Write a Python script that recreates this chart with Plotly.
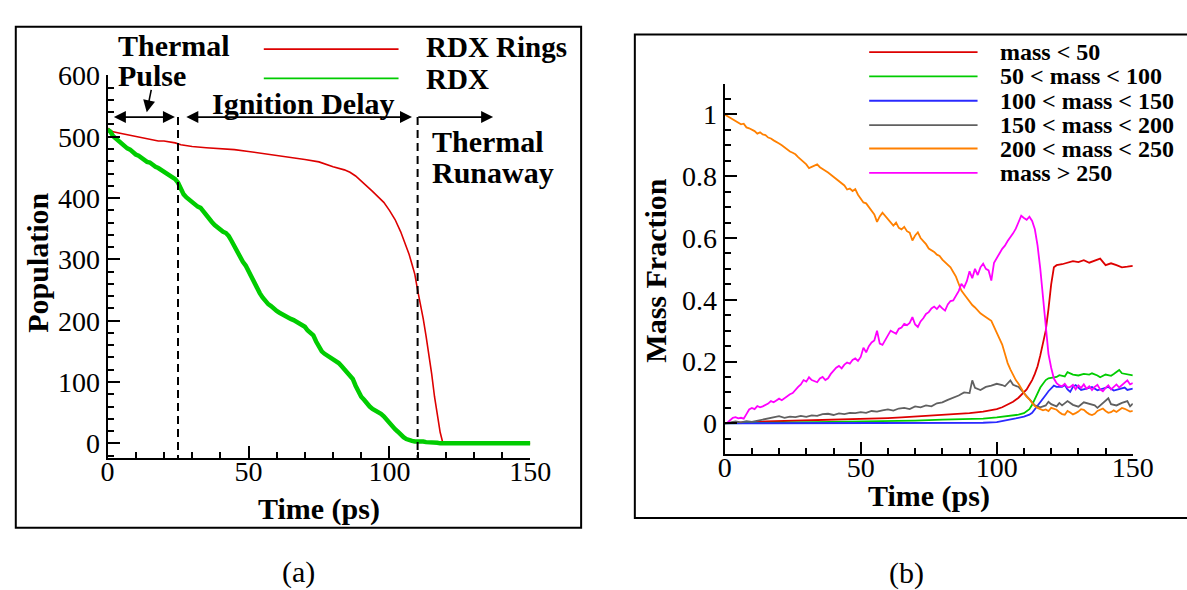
import plotly.graph_objects as go

# ---------------- Panel (a): populations ----------------
time_a = list(range(0, 151))
rdx_population = [
    512, 508, 501, 497, 492, 489, 485, 481, 479, 474,
    471, 469, 465, 463, 459, 458, 454, 451, 449, 446,
    443, 441, 438, 434, 431, 425, 413, 406, 401, 397,
    394, 390, 386, 384, 378, 370, 366, 361, 356, 352,
    348, 345, 343, 338, 330, 321, 313, 305, 296, 290,
    281, 271, 262, 251, 245, 238, 232, 227, 224, 219,
    216, 213, 210, 207, 205, 203, 201, 198, 196, 193,
    190, 184, 180, 176, 166, 156, 150, 146, 143, 139,
    138, 135, 131, 126, 121, 115, 110, 105, 94, 84,
    76, 71, 65, 60, 56, 54, 52, 48, 44, 38,
    33, 27, 23, 19, 14, 10, 7, 5, 4, 3,
    3, 4, 3, 2, 2, 1, 1, 1, 0, 0,
    0, 0, 0, 0, 0, 0, 0, 0, 0, 0,
    0, 0, 0, 0, 0, 0, 0, 0, 0, 0,
    0, 0, 0, 0, 0, 0, 0, 0, 0, 0,
    0,
]

time_rings = [0, 2, 4, 6, 8, 10, 12, 14, 16, 18, 20, 22, 24, 26, 28, 30, 35, 40, 45,
              50, 55, 60, 65, 70, 75, 80, 84, 86, 88, 90, 92, 94, 96, 98, 100, 102,
              104, 106, 107, 108, 109, 110, 111, 112, 113, 114, 115, 116, 117, 118,
              119, 150]
rings_population = [514, 508, 506, 504, 502, 501, 499, 496, 494, 493, 493, 492, 490,
                    487, 485, 484, 482, 481, 479, 476, 473, 469, 467, 463, 459, 451,
                    446, 442, 436, 428, 420, 411, 402, 393, 380, 365, 345, 322, 308,
                    292, 276, 250, 228, 203, 175, 145, 113, 76, 48, 18, 0, 0]

pulse_end = 25        # end of the thermal pulse (ps)
runaway_start = 110   # onset of thermal runaway (ps)

# ---------------- Panel (b): mass fractions ----------------
time_b = list(range(0, 151))
frac_200_250 = [
    1.000, 0.995, 0.990, 0.984, 0.978, 0.975, 0.968, 0.970, 0.958, 0.955,
    0.950, 0.946, 0.938, 0.942, 0.935, 0.933, 0.925, 0.922, 0.916, 0.912,
    0.906, 0.900, 0.893, 0.889, 0.880, 0.876, 0.871, 0.862, 0.855, 0.846,
    0.838, 0.826, 0.830, 0.836, 0.838, 0.829, 0.822, 0.818, 0.812, 0.805,
    0.798, 0.790, 0.786, 0.779, 0.770, 0.757, 0.760, 0.752, 0.758, 0.740,
    0.728, 0.715, 0.712, 0.700, 0.690, 0.676, 0.652, 0.670, 0.682, 0.671,
    0.660, 0.652, 0.640, 0.650, 0.633, 0.628, 0.636, 0.622, 0.617, 0.592,
    0.608, 0.618, 0.600, 0.590, 0.580, 0.566, 0.560, 0.555, 0.546, 0.542,
    0.530, 0.522, 0.514, 0.505, 0.490, 0.475, 0.452, 0.430, 0.418, 0.405,
    0.392, 0.383, 0.375, 0.365, 0.356, 0.350, 0.345, 0.338, 0.332, 0.312,
    0.294, 0.278, 0.255, 0.225, 0.195, 0.175, 0.155, 0.140, 0.128, 0.112,
    0.098, 0.086, 0.078, 0.066, 0.056, 0.050, 0.046, 0.042, 0.045, 0.040,
    0.050, 0.048, 0.044, 0.036, 0.030, 0.028, 0.040, 0.035, 0.029, 0.033,
    0.038, 0.046, 0.044, 0.036, 0.030, 0.027, 0.031, 0.040, 0.045, 0.048,
    0.040, 0.034, 0.036, 0.042, 0.037, 0.044, 0.050, 0.047, 0.042, 0.038,
    0.040,
]
frac_over_250 = [
    0.000, 0.002, 0.010, 0.018, 0.020, 0.016, 0.018, 0.015, 0.030, 0.045,
    0.050, 0.046, 0.056, 0.052, 0.055, 0.060, 0.064, 0.072, 0.068, 0.074,
    0.080, 0.075, 0.082, 0.090, 0.094, 0.098, 0.110, 0.118, 0.126, 0.140,
    0.135, 0.149, 0.140, 0.137, 0.133, 0.145, 0.150, 0.140, 0.146, 0.160,
    0.170, 0.180, 0.186, 0.178, 0.190, 0.197, 0.193, 0.205, 0.210, 0.202,
    0.215, 0.245, 0.230, 0.250, 0.262, 0.268, 0.300, 0.258, 0.254, 0.268,
    0.282, 0.300, 0.295, 0.290, 0.306, 0.310, 0.322, 0.318, 0.325, 0.344,
    0.320, 0.312, 0.330, 0.340, 0.354, 0.360, 0.372, 0.378, 0.370, 0.381,
    0.372, 0.365, 0.385, 0.396, 0.398, 0.415, 0.428, 0.452, 0.440, 0.460,
    0.492, 0.470, 0.500, 0.480, 0.505, 0.517, 0.500, 0.495, 0.462, 0.520,
    0.533, 0.550, 0.565, 0.575, 0.590, 0.601, 0.615, 0.630, 0.650, 0.672,
    0.665, 0.659, 0.669, 0.655, 0.628, 0.575, 0.500, 0.410, 0.300, 0.225,
    0.180, 0.145, 0.130, 0.123, 0.120, 0.128, 0.116, 0.118, 0.125, 0.110,
    0.123, 0.115, 0.126, 0.112, 0.120, 0.108, 0.118, 0.125, 0.110, 0.104,
    0.115, 0.123, 0.110, 0.118, 0.126, 0.116, 0.124, 0.132, 0.139, 0.126,
    0.130,
]

time_lt50 = [0, 5, 10, 15, 20, 25, 30, 35, 40, 45, 50, 55, 60, 65, 70, 75, 80, 85, 90,
             95, 98, 100, 102, 104, 106, 108, 110, 111, 112, 113, 114, 115, 116, 117,
             118, 119, 120, 121, 122, 124, 126, 128, 130, 132, 134, 136, 138, 140, 142,
             144, 146, 148, 150]
frac_lt50 = [0.000, 0.003, 0.005, 0.006, 0.007, 0.008, 0.009, 0.010, 0.011, 0.013,
             0.014, 0.015, 0.017, 0.019, 0.022, 0.024, 0.026, 0.029, 0.033, 0.038,
             0.042, 0.046, 0.052, 0.060, 0.070, 0.083, 0.100, 0.110, 0.125, 0.140,
             0.160, 0.185, 0.220, 0.265, 0.300, 0.370, 0.450, 0.505, 0.512, 0.515,
             0.520, 0.525, 0.522, 0.528, 0.520, 0.526, 0.533, 0.512, 0.518, 0.512,
             0.505, 0.507, 0.510]

time_50_100 = [0, 10, 20, 30, 40, 50, 60, 70, 80, 90, 95, 100, 104, 108, 110, 112, 113,
               114, 115, 116, 117, 118, 119, 120, 122, 123, 125, 126, 128, 130, 132,
               134, 135, 137, 138, 140, 142, 143, 145, 146, 148, 150]
frac_50_100 = [0.000, 0.001, 0.003, 0.004, 0.005, 0.006, 0.007, 0.009, 0.012, 0.014,
               0.015, 0.019, 0.023, 0.028, 0.033, 0.046, 0.060, 0.080, 0.100, 0.116,
               0.128, 0.140, 0.146, 0.148, 0.150, 0.156, 0.152, 0.166, 0.158, 0.155,
               0.160, 0.158, 0.162, 0.155, 0.149, 0.158, 0.154, 0.160, 0.173, 0.162,
               0.158, 0.155]

time_100_150 = [0, 20, 40, 60, 80, 95, 100, 104, 107, 110, 112, 113, 114, 115, 116, 117,
                118, 119, 120, 121, 122, 124, 125, 126, 127, 128, 129, 131, 133, 135,
                137, 139, 141, 143, 145, 147, 148, 150]
frac_100_150 = [0.000, 0.000, 0.000, 0.001, 0.001, 0.002, 0.004, 0.010, 0.016, 0.022,
                0.028, 0.034, 0.045, 0.058, 0.068, 0.080, 0.092, 0.104, 0.112, 0.122,
                0.118, 0.118, 0.124, 0.110, 0.102, 0.118, 0.124, 0.108, 0.112, 0.118,
                0.107, 0.112, 0.118, 0.106, 0.110, 0.116, 0.108, 0.112]

time_150_200 = [0, 2, 4, 6, 8, 10, 12, 14, 16, 18, 20, 22, 24, 26, 28, 30, 32, 34, 36,
                38, 40, 42, 44, 46, 48, 50, 52, 54, 56, 58, 60, 62, 64, 66, 68, 70, 72,
                74, 76, 78, 80, 82, 84, 86, 88, 90, 91, 92, 94, 96, 98, 100, 102, 103,
                105, 106, 108, 110, 112, 114, 116, 118, 119, 120, 122, 123, 124, 126,
                128, 130, 132, 134, 136, 137, 139, 141, 142, 144, 146, 148, 149, 150]
frac_150_200 = [0.000, 0.004, 0.006, 0.003, 0.007, 0.005, 0.009, 0.012, 0.015, 0.020,
                0.023, 0.018, 0.022, 0.020, 0.024, 0.021, 0.026, 0.024, 0.030, 0.031,
                0.027, 0.032, 0.030, 0.034, 0.033, 0.036, 0.034, 0.040, 0.038, 0.042,
                0.045, 0.041, 0.048, 0.050, 0.046, 0.055, 0.052, 0.058, 0.055, 0.065,
                0.068, 0.076, 0.082, 0.090, 0.100, 0.098, 0.139, 0.115, 0.108, 0.118,
                0.122, 0.128, 0.124, 0.120, 0.139, 0.125, 0.118, 0.097, 0.078, 0.058,
                0.052, 0.058, 0.070, 0.062, 0.055, 0.066, 0.058, 0.072, 0.060, 0.054,
                0.068, 0.062, 0.058, 0.050, 0.066, 0.081, 0.062, 0.058, 0.066, 0.072,
                0.055, 0.064]

series_b = [
    ("mass < 50", time_lt50, frac_lt50, "#dd0000"),
    ("50 < mass < 100", time_50_100, frac_50_100, "#00cc00"),
    ("100 < mass < 150", time_100_150, frac_100_150, "#2a2aff"),
    ("150 < mass < 200", time_150_200, frac_150_200, "#606060"),
    ("200 < mass < 250", time_b, frac_200_250, "#ff8000"),
    ("mass > 250", time_b, frac_over_250, "#ff00ff"),
]

# ---------------- geometry helpers (pixels -> paper) ----------------
W, H = 1187, 590


def px(x):
    return x / W


def py(y):
    return 1 - y / H


SERIF = "Liberation Serif"

fig = go.Figure()

fig.add_trace(go.Scatter(x=time_rings, y=rings_population, mode="lines",
                         line=dict(color="#dd0000", width=1.6),
                         xaxis="x", yaxis="y", showlegend=False))
fig.add_trace(go.Scatter(x=time_a, y=rdx_population, mode="lines",
                         line=dict(color="#00cc00", width=4.5),
                         xaxis="x", yaxis="y", showlegend=False))

for name, t, v, c in series_b:
    fig.add_trace(go.Scatter(x=t, y=v, mode="lines", name=name,
                             line=dict(color=c, width=1.8),
                             xaxis="x2", yaxis="y2", showlegend=False))


def axis_style(dtick, minor_dtick, standoff=0):
    return dict(
        showline=True, linecolor="black", linewidth=2,
        ticks="inside", ticklen=12, tickwidth=2, tickcolor="black",
        dtick=dtick, tick0=0, showgrid=False, zeroline=False,
        ticklabelstandoff=standoff,
        tickfont=dict(family=SERIF, size=28, color="black"),
        minor=dict(ticks="inside", ticklen=6, tickwidth=1.5, tickcolor="black",
                   dtick=minor_dtick, showgrid=False),
    )


fig.update_layout(
    width=W, height=H,
    margin=dict(l=0, r=0, t=0, b=0),
    paper_bgcolor="white", plot_bgcolor="white",
    xaxis=dict(domain=[px(103), px(536)], range=[0, 150], anchor="y",
               **axis_style(50, 10, -13)),
    yaxis=dict(domain=[py(455), py(62)], range=[-24.6, 600], anchor="x",
               **axis_style(100, 20)),
    xaxis2=dict(domain=[px(735), px(1153)], range=[0, 150], anchor="y2",
                **axis_style(50, 10, -13)),
    yaxis2=dict(domain=[py(450.7), py(70.3)], range=[-0.1, 1.1], anchor="x2",
                **axis_style(0.2, 0.05)),
)

shapes = [
    # panel frames
    dict(type="rect", xref="paper", yref="paper", x0=px(9), x1=px(588),
         y0=py(526), y1=py(12), line=dict(color="black", width=2)),
    dict(type="rect", xref="paper", yref="paper", x0=px(643), x1=px(1240),
         y0=py(516), y1=py(20), line=dict(color="black", width=2)),
]

# phase boundaries
arrow_level = 532
for t in (pulse_end, runaway_start):
    shapes.append(dict(type="line", xref="x", yref="y", x0=t, x1=t,
                       y0=arrow_level, y1=-24.6,
                       line=dict(color="black", width=2, dash="8px,5px")))

# legend keys, panel (a)
for y_pix, col in ((35, "#dd0000"), (65, "#00cc00")):
    shapes.append(dict(type="line", xref="paper", yref="paper",
                       x0=px(263), x1=px(401), y0=py(y_pix), y1=py(y_pix),
                       line=dict(color=col, width=1.6)))

# legend keys, panel (b)
legend_rows_b = [38, 63, 88, 113, 137, 162]
for (name, t, v, c), y_pix in zip(series_b, legend_rows_b):
    shapes.append(dict(type="line", xref="paper", yref="paper",
                       x0=px(883), x1=px(994), y0=py(y_pix), y1=py(y_pix),
                       line=dict(color=c, width=1.8)))

fig.update_layout(shapes=shapes)

annotations = []


def label(text, x, y, size=30, xanchor="center", angle=0, bold=True):
    annotations.append(dict(
        text=f"<b>{text}</b>" if bold else text,
        x=px(x), y=py(y), xref="paper", yref="paper",
        xanchor=xanchor, yanchor="middle", showarrow=False, textangle=angle,
        font=dict(family=SERIF, size=size, color="black")))


# axis titles
label("Time (ps)", 319.5, 507)
label("Population", 31, 254, angle=-90)
label("Time (ps)", 944, 494)
label("Mass Fraction", 664, 262, angle=-90)

# sub-figure tags
label("(a)", 299, 572, bold=False)
label("(b)", 921, 573, bold=False)

# phase annotations
label("Thermal", 112, 31, xanchor="left")
label("Pulse", 112, 62, xanchor="left")
label("Ignition Delay", 303.5, 91)
label("Thermal", 433, 130, xanchor="left")
label("Runaway", 433, 162, xanchor="left")

# legend text
label("RDX Rings", 427, 33, xanchor="left", size=29)
label("RDX", 427, 66, xanchor="left", size=29)
for (name, t, v, c), y_pix in zip(series_b, legend_rows_b):
    label(name.replace("<", "&lt;").replace(">", "&gt;"), 1015, y_pix,
          size=24, xanchor="left")


def arrow(x_end, y_end, x_start, y_start, both=False):
    annotations.append(dict(
        x=x_end, y=y_end, ax=x_start, ay=y_start,
        xref="x", yref="y", axref="x", ayref="y", text="",
        showarrow=True, arrowhead=2, arrowsize=1.5, arrowwidth=1.6,
        arrowcolor="black", arrowside="end+start" if both else "end",
        standoff=0, startstandoff=0))


arrow(23.9, arrow_level, 1.7, arrow_level, both=True)
arrow(108.0, arrow_level, 27.4, arrow_level, both=True)
arrow(136.8, arrow_level, runaway_start - 0.3, arrow_level)
arrow(13.9, 540, 15.6, 579)

fig.update_layout(annotations=annotations)

fig.write_html("out.html")
